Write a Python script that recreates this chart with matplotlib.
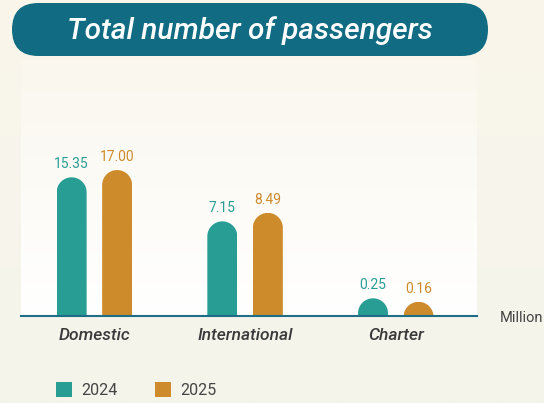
import numpy as np
import matplotlib
matplotlib.use("Agg")
import matplotlib.pyplot as plt
from matplotlib.patches import FancyBboxPatch, Patch
from matplotlib.path import Path
from matplotlib.colors import to_rgb

# ---- data ----
categories = ["Domestic", "International", "Charter"]
series_names = ["2024", "2025"]
values_2024 = [15.35, 7.15, 0.25]
values_2025 = [17.00, 8.49, 0.16]
unit_label = "Million"
title_text = "Total number of passengers"

# ---- style ----
TEAL = "#289d94"
ORANGE = "#cd8b2c"
DARK = "#116b82"
FONT = ["Roboto", "DejaVu Sans"]
plt.rcParams["font.family"] = FONT

W, H, DPI = 544, 403, 100
fig = plt.figure(figsize=(W / DPI, H / DPI), dpi=DPI)


def rect_px(x0, y0, x1, y1):
    return [x0 / W, 1 - y1 / H, (x1 - x0) / W, (y1 - y0) / H]


def vgrad(c_top, c_bot, n=256):
    t = np.linspace(0, 1, n)[:, None, None]
    a = np.array(to_rgb(c_top))[None, None, :]
    b = np.array(to_rgb(c_bot))[None, None, :]
    return a * (1 - t) + b * t


# page background
bg = fig.add_axes([0, 0, 1, 1], zorder=-10)
bg.imshow(vgrad("#faf6eb", "#f4f4ec"), aspect="auto", extent=[0, 1, 0, 1])
bg.axis("off")

# plot panel background
panel = fig.add_axes(rect_px(21, 60, 477, 316), zorder=-9)
panel.imshow(vgrad("#faf7ee", "#ffffff"), aspect="auto", extent=[0, 1, 0, 1])
panel.axis("off")

# main axes
ax = fig.add_axes(rect_px(21, 70, 477, 316))
ax.set_facecolor("none")
ax.set_yscale("function",
              functions=(lambda y: np.sqrt(np.clip(y, 0, None)), lambda y: np.square(y)))
ax.set_ylim(0, 48.3)
ax.set_xlim(-0.487, 2.539)

x = np.arange(len(categories))
bw = 0.199
off = 0.151

bars_a = ax.bar(x - off, values_2024, bw, color=TEAL, zorder=2, linewidth=0)
bars_b = ax.bar(x + off, values_2025, bw, color=ORANGE, zorder=2, linewidth=0)


def round_top(rect):
    x0 = rect.get_x()
    w = rect.get_width()
    h = rect.get_height()
    dx0, dy0 = ax.transData.transform((x0, 0))
    dx1, dy1 = ax.transData.transform((x0 + w, h))
    r = (dx1 - dx0) / 2
    cx, cy = (dx0 + dx1) / 2, dy1 - r
    th = np.linspace(0, np.pi, 80)
    arc = np.column_stack([cx + r * np.cos(th), cy + r * np.sin(th)])
    verts = np.vstack([[dx1, dy0 - 10], arc, [dx0, dy0 - 10], [dx1, dy0 - 10]])
    verts_ax = ax.transAxes.inverted().transform(verts)
    codes = [Path.MOVETO] + [Path.LINETO] * (len(verts) - 2) + [Path.CLOSEPOLY]
    rect.set_clip_path(Path(verts_ax, codes), ax.transAxes)


for bars, vals, col in ((bars_a, values_2024, TEAL), (bars_b, values_2025, ORANGE)):
    for rect, v in zip(bars, vals):
        round_top(rect)
        ax.annotate(f"{v:.2f}", (rect.get_x() + rect.get_width() / 2, v),
                    xytext=(0, 4.5), textcoords="offset points",
                    ha="center", va="bottom", color=col, fontsize=10)

for s in ("top", "left", "right"):
    ax.spines[s].set_visible(False)
ax.spines["bottom"].set_color("#1d6e86")
ax.spines["bottom"].set_linewidth(1.5)
ax.set_yticks([])
ax.set_xticks(x)
ax.set_xticklabels(categories, fontsize=12.5, style="italic", weight="medium",
                   color="#3a3a3a")
ax.tick_params(axis="x", length=0, pad=8.5)

# overlay in pixel coordinates
ov = fig.add_axes([0, 0, 1, 1], zorder=5)
ov.set_xlim(0, W)
ov.set_ylim(H, 0)
ov.axis("off")
ov.add_patch(FancyBboxPatch((12, 3), 476, 53,
                            boxstyle="round,pad=0,rounding_size=26.5",
                            facecolor=DARK, edgecolor="none"))
ov.text(250, 39, title_text, ha="center", va="baseline", color="white",
        fontsize=21.5, style="italic", weight="medium")
ov.text(500, 318, unit_label, ha="left", va="center", color="#444444",
        fontsize=10.5)

handles = [Patch(facecolor=TEAL, edgecolor="none"),
           Patch(facecolor=ORANGE, edgecolor="none")]
fig.legend(handles, series_names, loc="lower left",
           bbox_to_anchor=(56 / W, 1 - 398 / H), ncol=2, frameon=False,
           fontsize=11.5, handlelength=1.0, handleheight=1.0,
           handletextpad=0.6, columnspacing=2.3, borderpad=0, borderaxespad=0,
           labelcolor="#444444")

fig.savefig("out.png", dpi=DPI)
